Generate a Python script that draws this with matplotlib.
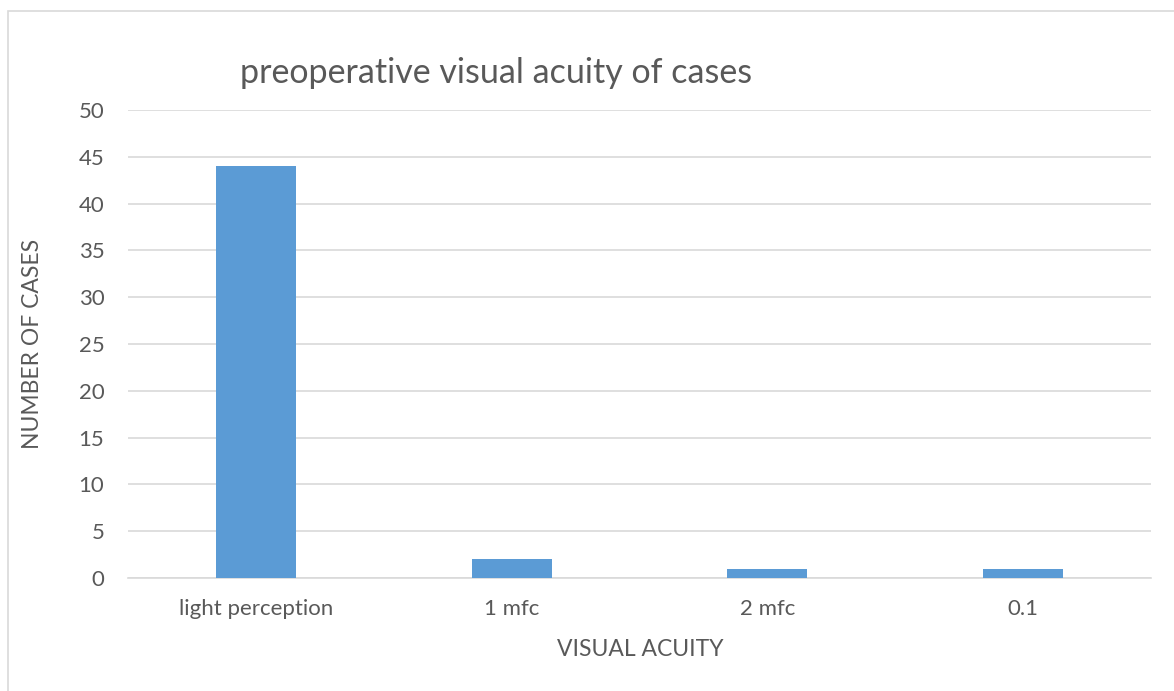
import matplotlib.pyplot as plt
from matplotlib.patches import Rectangle

# data
categories = ["light perception", "1 mfc", "2 mfc", "0.1"]
cases = [44, 2, 1, 1]

W, H = 1174, 691
txt = "#595959"
plt.rcParams['font.family'] = ['Lato', 'DejaVu Sans']

fig = plt.figure(figsize=(W / 100, H / 100), dpi=100)

# chart border (excel style), runs off right and bottom edges
fig.patches.append(Rectangle((8 / W, -0.2), 1.2, 1.2 - 11 / H, transform=fig.transFigure,
                             fill=False, edgecolor="#D9D9D9", linewidth=1.2))

ax = fig.add_axes([128 / W, (H - 578) / H, 1023 / W, (578 - 110) / H])
x = range(len(categories))
ax.bar(x, cases, width=0.313, color="#5B9BD5", zorder=3)

ax.set_xlim(-0.5, len(categories) - 0.5)
ax.set_ylim(0, 50)
ax.set_yticks(range(0, 51, 5))
ax.set_xticks(list(x))
ax.set_xticklabels(categories)
ax.grid(axis="y", color="#D9D9D9", linewidth=1.2, zorder=0)
for s in ["top", "right", "left"]:
    ax.spines[s].set_visible(False)
ax.spines["bottom"].set_color("#D9D9D9")
ax.spines["bottom"].set_linewidth(1.2)
ax.tick_params(length=0, labelsize=16, colors=txt)
ax.tick_params(axis="y", pad=17)
ax.tick_params(axis="x", pad=15)

fig.text(33 / W, 1 - 344 / H, "NUMBER OF CASES", rotation=90, ha="center", va="center",
         fontsize=16.5, color=txt)
fig.text(640 / W, 1 - 650 / H, "VISUAL ACUITY", ha="center", va="center",
         fontsize=16.5, color=txt)
fig.text(496 / W, 1 - 73 / H, "preoperative visual acuity of cases", ha="center", va="center",
         fontsize=24.5, color=txt)

fig.savefig("out.png", dpi=100)
